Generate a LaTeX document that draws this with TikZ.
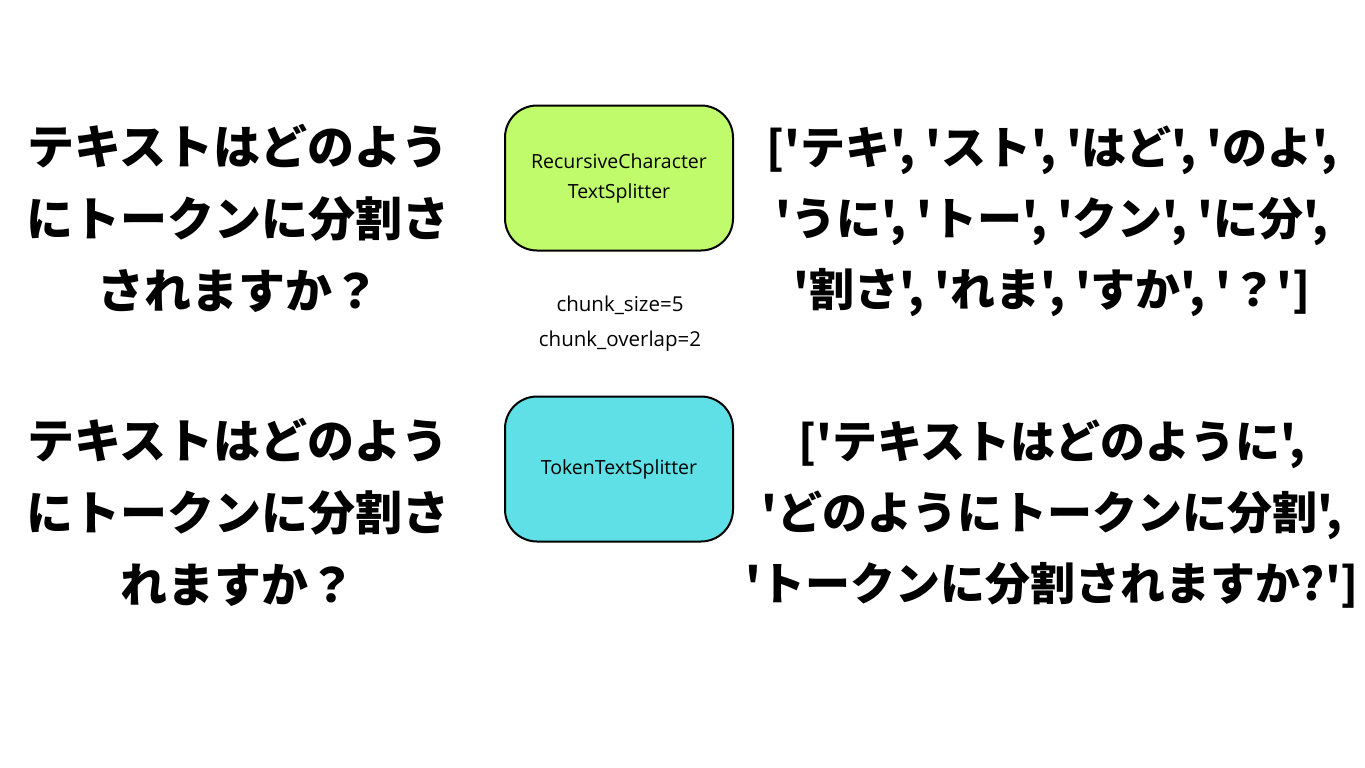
\documentclass[tikz,border=0pt]{standalone}
\usepackage{fontspec}
\newfontfamily\cjk{Noto Sans CJK JP}
\setsansfont{Open Sans}
\begin{document}
\begin{tikzpicture}[x=1pt,y=-1pt,
  big/.style={font=\cjk\bfseries\fontsize{47}{72}\selectfont, align=center, inner sep=0pt},
  bigr/.style={font=\cjk\bfseries\fontsize{45}{71}\selectfont, align=center, inner sep=0pt},
  box/.style={draw=black, line width=2pt, rounded corners=32pt, minimum width=228pt, minimum height=145pt, align=center, font=\sffamily\fontsize{19.5}{30}\selectfont, inner sep=0pt},
  small/.style={font=\sffamily\fontsize{20.5}{35}\selectfont, align=center, inner sep=0pt}]
\useasboundingbox (0,0) rectangle (1365,768);
\definecolor{gr}{HTML}{C0FB6C}
\definecolor{cy}{HTML}{5EE0E6}
\node[big] (q1) at (238,218) {テキストはどのよう\\にトークンに分割さ\\されますか？};
\node[box, fill=gr] (b1) at (619,178) {RecursiveCharacter\\TextSplitter};
\node[bigr] (r1) at (1052,221) {['テキ', 'スト', 'はど', 'のよ',\\'うに', 'トー', 'クン', 'に分',\\'割さ', 'れま', 'すか', '？']};
\node[small] (c) at (620,324) {chunk\_size=5\\chunk\_overlap=2};
\node[big] (q2) at (238,512) {テキストはどのよう\\にトークンに分割さ\\れますか？};
\node[box, fill=cy] (b2) at (619,469) {TokenTextSplitter};
\node[bigr] (r2) at (1052,514) {['テキストはどのように',\\'どのようにトークンに分割',\\'トークンに分割されますか?']};
\end{tikzpicture}
\end{document}
